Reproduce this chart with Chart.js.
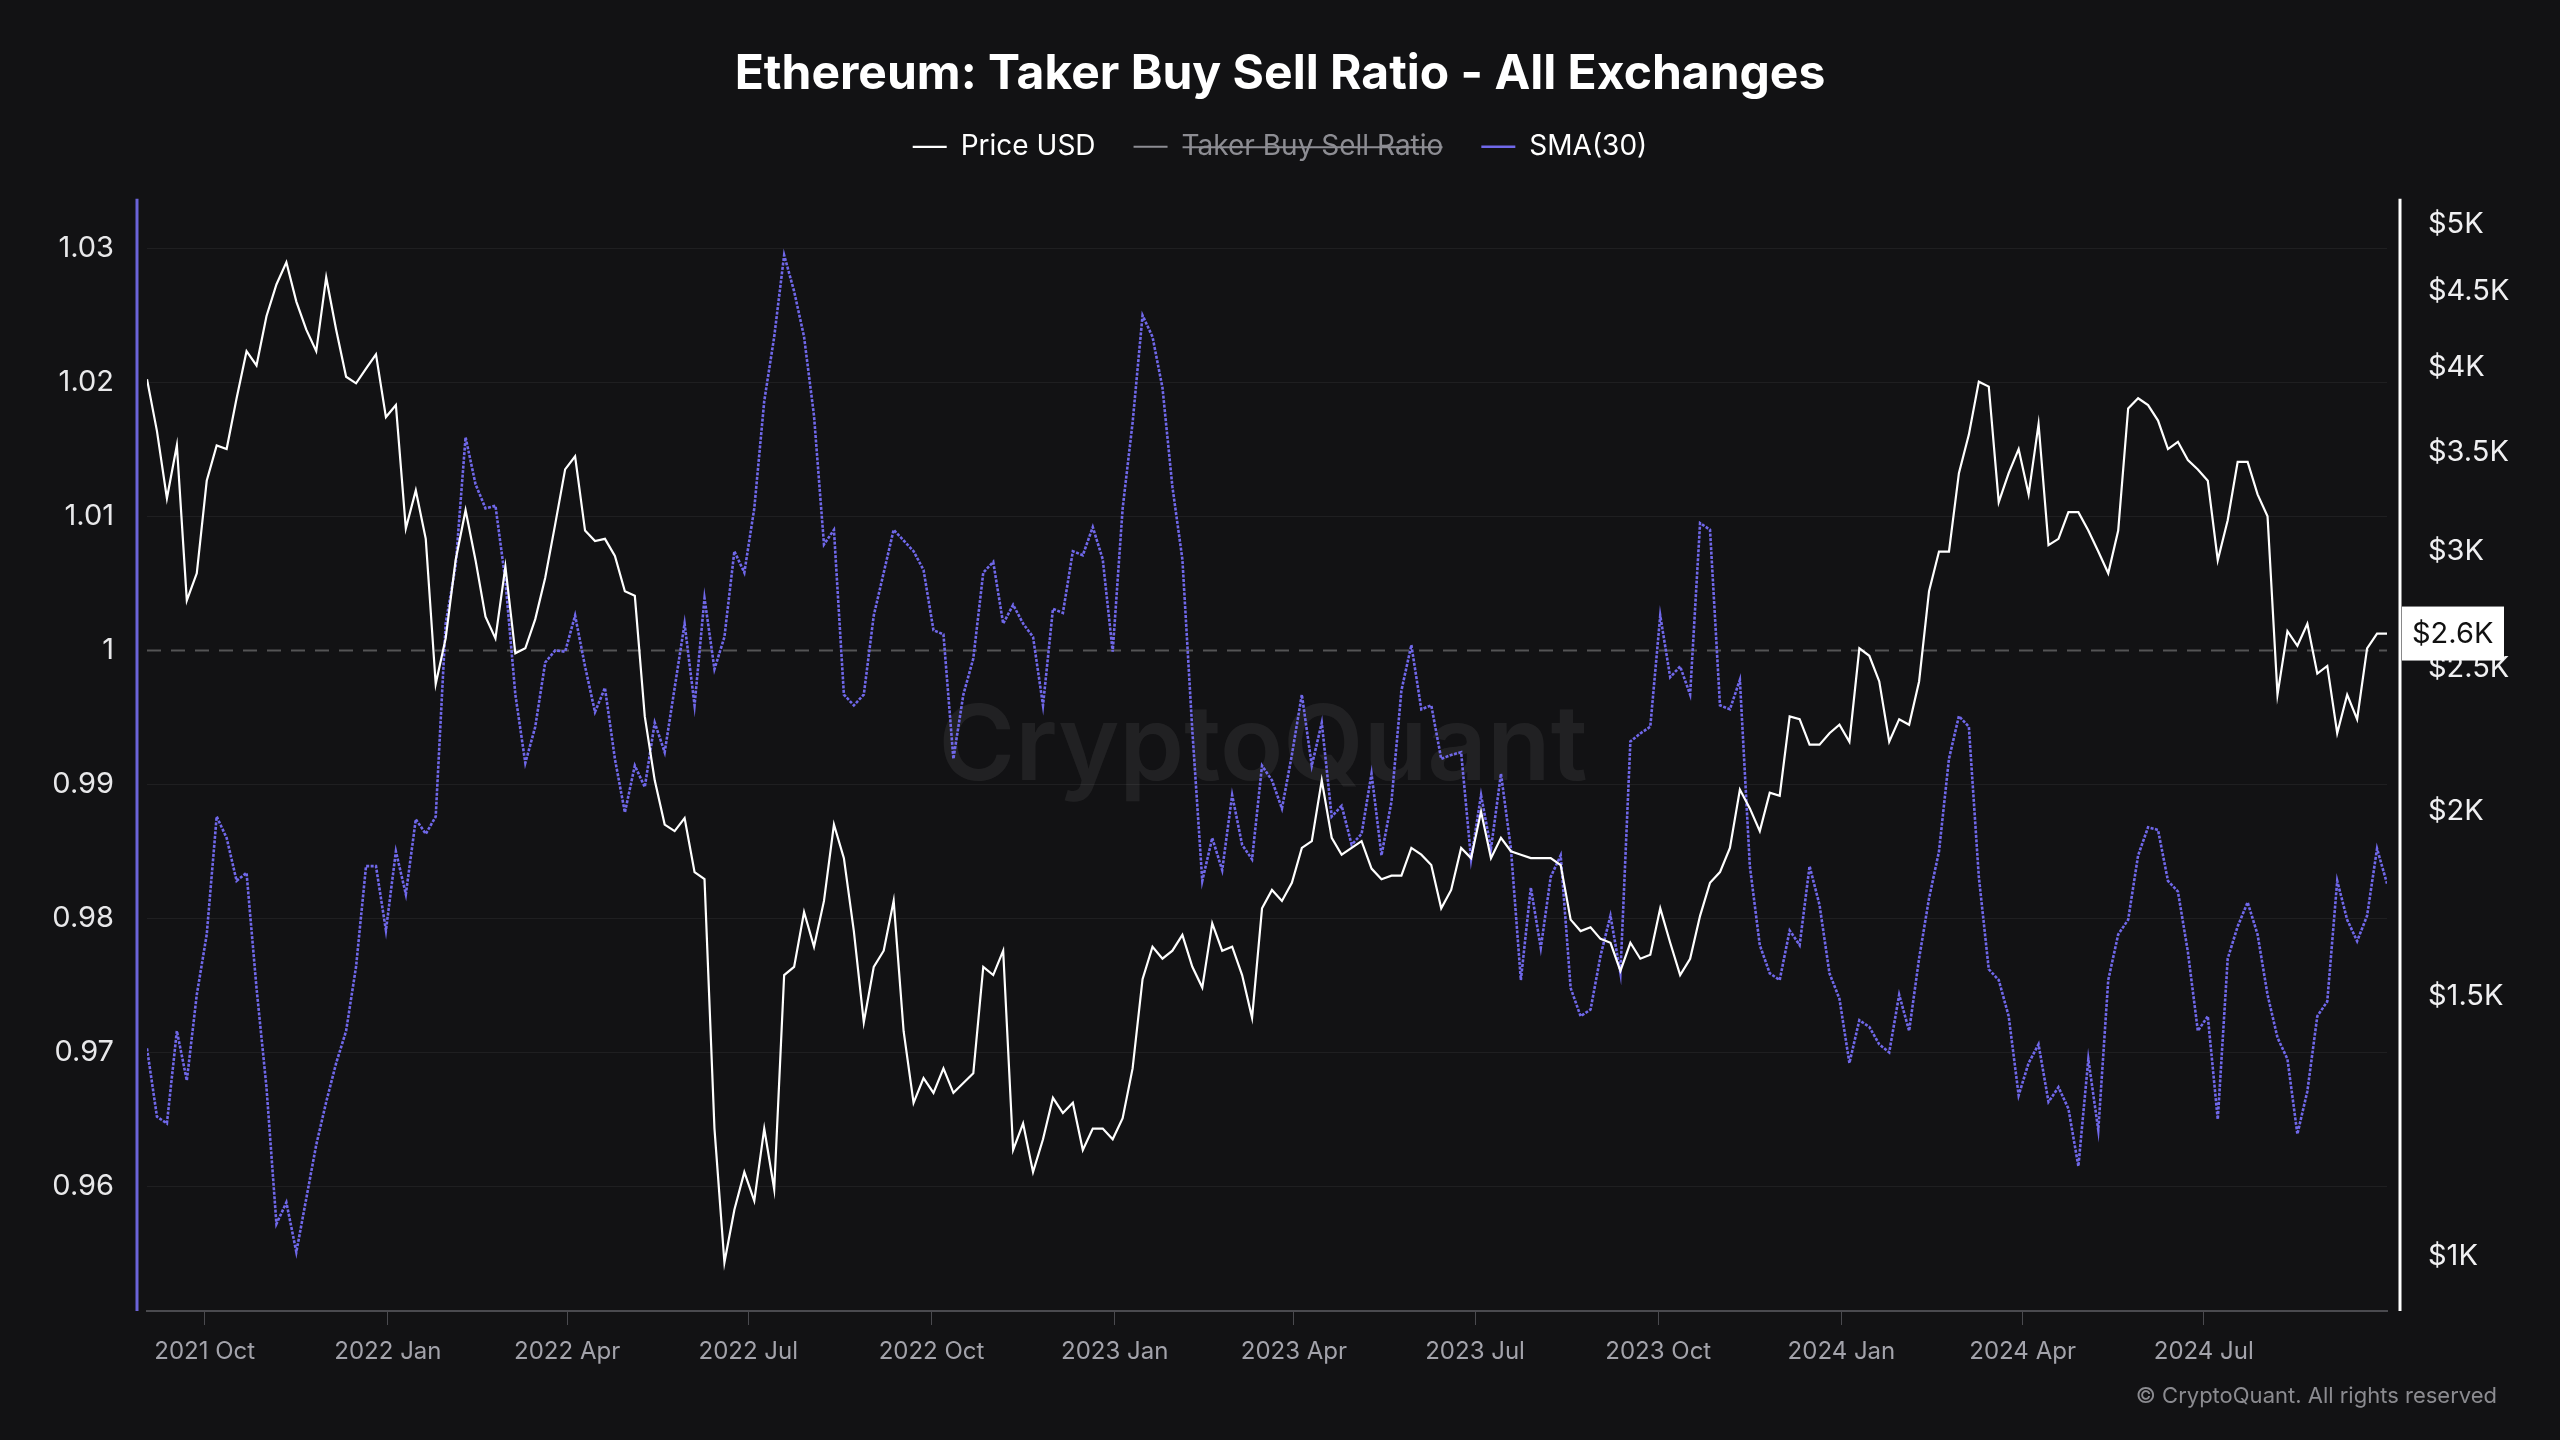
<!DOCTYPE html>
<html>
<head>
<meta charset="utf-8">
<title>Ethereum: Taker Buy Sell Ratio - All Exchanges</title>
<script src="https://cdn.jsdelivr.net/npm/chart.js@4.4.1/dist/chart.umd.min.js"></script>
<style>
  html, body { margin: 0; padding: 0; background: #121214; }
  #wrap { width: 2560px; height: 1440px; position: relative; }
</style>
</head>
<body>
<div id="wrap"><canvas id="myChart"></canvas></div>
<script>
// one reading every 5 days, starting 2021-09-02
var startDate = Date.UTC(2021, 8, 2);
var stepDays = 5;

// Price USD (right axis, log)
var priceUsd = [
  3925, 3620, 3260, 3540, 2780, 2900, 3350, 3540, 3520, 3810,
  4100, 4010, 4330, 4550, 4710, 4430, 4240, 4100, 4600, 4240,
  3940, 3900, 3990, 4080, 3700, 3770, 3110, 3300, 3060, 2440,
  2620, 2960, 3200, 2960, 2710, 2620, 2930, 2560,
  2580, 2700, 2880, 3130, 3410, 3480, 3100, 3050, 3060, 2980,
  2820, 2800, 2320, 2100, 1960, 1940, 1980, 1820, 1800, 1220,
  990, 1075, 1140, 1090, 1220, 1110, 1550, 1570, 1710, 1620,
  1740, 1960, 1860, 1660, 1440, 1570, 1610, 1740,
  1420, 1270, 1320, 1290, 1340, 1290, 1310, 1330, 1570, 1550,
  1610, 1180, 1230, 1140, 1200, 1280, 1250, 1270, 1180, 1220,
  1220, 1200, 1240, 1340, 1540, 1620, 1590, 1610, 1650, 1570,
  1520, 1680, 1610, 1620, 1550, 1450, 1720,
  1770, 1740, 1790, 1890, 1910, 2100, 1920, 1870, 1890, 1910,
  1830, 1800, 1810, 1810, 1890, 1870, 1840, 1720, 1770, 1890,
  1860, 2000, 1860, 1920, 1880, 1870, 1860, 1860, 1860, 1840,
  1690, 1660, 1670, 1640, 1630, 1560, 1630, 1590,
  1600, 1720, 1630, 1550, 1590, 1700, 1790, 1820, 1890, 2070,
  2010, 1940, 2060, 2050, 2320, 2310, 2220, 2220, 2260, 2290,
  2230, 2580, 2550, 2450, 2230, 2310, 2290, 2450, 2820, 3000,
  3000, 3390, 3600, 3910, 3880, 3240, 3390, 3520,
  3280, 3660, 3030, 3060, 3190, 3190, 3100, 3000, 2900, 3100,
  3750, 3810, 3770, 3680, 3520, 3560, 3460, 3410, 3350, 2960,
  3150, 3450, 3450, 3280, 3170, 2400, 2650, 2590, 2680, 2480,
  2510, 2260, 2400, 2310, 2580, 2640, 2640
];

// SMA(30) of taker buy sell ratio (left axis)
var sma30 = [
  0.9703, 0.9652, 0.9647, 0.9716, 0.9679, 0.9743, 0.9788, 0.9876, 0.9860, 0.9828,
  0.9834, 0.9748, 0.9674, 0.9572, 0.9588, 0.9551, 0.9591, 0.9631, 0.9663, 0.9692,
  0.9716, 0.9764, 0.9839, 0.9839, 0.9791, 0.9850, 0.9818, 0.9874, 0.9863, 0.9876,
  1.0020, 1.0063, 1.0159, 1.0124, 1.0106, 1.0108, 1.0052, 0.9967,
  0.9916, 0.9943, 0.9991, 1.0000, 0.9999, 1.0026, 0.9988, 0.9954, 0.9972, 0.9919,
  0.9879, 0.9914, 0.9898, 0.9946, 0.9924, 0.9972, 1.0020, 0.9959, 1.0039, 0.9986,
  1.0010, 1.0074, 1.0058, 1.0106, 1.0186, 1.0234, 1.0295, 1.0268, 1.0234, 1.0175,
  1.0079, 1.0090, 0.9967, 0.9959, 0.9967, 1.0026, 1.0058, 1.0090,
  1.0082, 1.0074, 1.0060, 1.0015, 1.0012, 0.9919, 0.9967, 0.9994, 1.0058, 1.0066,
  1.0020, 1.0034, 1.0020, 1.0010, 0.9959, 1.0031, 1.0028, 1.0074, 1.0071, 1.0092,
  1.0068, 0.9999, 1.0106, 1.0170, 1.0250, 1.0234, 1.0196, 1.0122, 1.0068, 0.9940,
  0.9828, 0.9860, 0.9836, 0.9892, 0.9855, 0.9844, 0.9914,
  0.9903, 0.9882, 0.9922, 0.9967, 0.9914, 0.9946, 0.9876, 0.9884, 0.9855, 0.9863,
  0.9908, 0.9847, 0.9887, 0.9970, 1.0004, 0.9956, 0.9959, 0.9919, 0.9922, 0.9924,
  0.9844, 0.9892, 0.9852, 0.9908, 0.9852, 0.9754, 0.9823, 0.9778, 0.9831, 0.9847,
  0.9748, 0.9727, 0.9732, 0.9772, 0.9802, 0.9759, 0.9932, 0.9938,
  0.9943, 1.0026, 0.9980, 0.9988, 0.9967, 1.0095, 1.0090, 0.9959, 0.9956, 0.9978,
  0.9839, 0.9780, 0.9759, 0.9754, 0.9791, 0.9780, 0.9839, 0.9810, 0.9759, 0.9740,
  0.9692, 0.9724, 0.9719, 0.9706, 0.9700, 0.9743, 0.9716, 0.9770, 0.9815, 0.9850,
  0.9919, 0.9951, 0.9943, 0.9831, 0.9762, 0.9754, 0.9727, 0.9668,
  0.9692, 0.9706, 0.9663, 0.9674, 0.9658, 0.9615, 0.9695, 0.9642, 0.9754, 0.9788,
  0.9799, 0.9847, 0.9868, 0.9866, 0.9828, 0.9820, 0.9775, 0.9716, 0.9727, 0.9650,
  0.9770, 0.9794, 0.9812, 0.9788, 0.9743, 0.9711, 0.9695, 0.9639, 0.9671, 0.9727,
  0.9738, 0.9828, 0.9799, 0.9783, 0.9802, 0.9852, 0.9826
];

var ratioTicks = [0.96, 0.97, 0.98, 0.99, 1, 1.01, 1.02, 1.03];
var priceTicks = [1000, 1500, 2000, 2500, 3000, 3500, 4000, 4500, 5000];
var monthNames = ["Jan", "Feb", "Mar", "Apr", "May", "Jun", "Jul", "Aug", "Sep", "Oct", "Nov", "Dec"];

var dates = [];
for (var i = 0; i < priceUsd.length; i++) {
  dates.push(startDate + i * stepDays * 86400000);
}

var FONT = "Inter, 'Noto Sans', sans-serif";

var decor = {
  id: "decor",
  beforeInit: function(chart) {
    var fit = chart.legend.fit;
    chart.legend.fit = function() {
      fit.bind(chart.legend)();
      this.height += 28;
    };
  },
  beforeDraw: function(chart) {
    var ctx = chart.ctx;
    ctx.save();
    ctx.fillStyle = "#121214";
    ctx.fillRect(0, 0, chart.width, chart.height);
    ctx.restore();
  },
  beforeDatasetsDraw: function(chart) {
    var ctx = chart.ctx, a = chart.chartArea;
    ctx.save();
    // watermark
    ctx.font = "600 104px " + FONT;
    ctx.fillStyle = "rgba(255,255,255,0.065)";
    ctx.textAlign = "center";
    ctx.textBaseline = "middle";
    ctx.fillText("CryptoQuant", (a.left + a.right) / 2 - 4, (a.top + a.bottom) / 2 - 6);
    // dashed line at ratio 1
    var y = chart.scales.y.getPixelForValue(1);
    ctx.strokeStyle = "rgba(255,255,255,0.28)";
    ctx.lineWidth = 2;
    ctx.setLineDash([14, 10]);
    ctx.beginPath();
    ctx.moveTo(a.left, y);
    ctx.lineTo(a.right, y);
    ctx.stroke();
    ctx.restore();
  },
  afterDraw: function(chart) {
    var ctx = chart.ctx, a = chart.chartArea;
    ctx.save();
    // axis lines, set apart from the plot
    ctx.lineWidth = 3;
    ctx.strokeStyle = "#6b63d8";
    ctx.beginPath();
    ctx.moveTo(a.left - 10, a.top);
    ctx.lineTo(a.left - 10, a.bottom);
    ctx.stroke();
    ctx.strokeStyle = "#ffffff";
    ctx.beginPath();
    ctx.moveTo(a.right + 13, a.top);
    ctx.lineTo(a.right + 13, a.bottom);
    ctx.stroke();

    // last price tag
    var last = priceUsd[priceUsd.length - 1];
    var py = chart.scales.y1.getPixelForValue(last);
    ctx.fillStyle = "#ffffff";
    ctx.fillRect(a.right + 15, py - 27, 102, 54);
    ctx.fillStyle = "#111111";
    ctx.font = "29px " + FONT;
    ctx.textAlign = "left";
    ctx.textBaseline = "middle";
    ctx.fillText("$" + (last / 1000).toFixed(1) + "K", a.right + 25, py + 1);

    // copyright
    ctx.font = "22px " + FONT;
    ctx.fillStyle = "#8b8b90";
    ctx.textAlign = "right";
    ctx.fillText("\u00a9 CryptoQuant. All rights reserved", 2497, 1396);
    ctx.restore();
  }
};

var myChart = document.getElementById("myChart").getContext("2d");

var chart = new Chart(myChart, {
  type: "line",
  data: {
    labels: dates,
    datasets: [
      {
        label: "Price USD",
        data: priceUsd,
        yAxisID: "y1",
        borderColor: "#ffffff",
        borderWidth: 2.2,
        pointRadius: 0,
        tension: 0
      },
      {
        label: "Taker Buy Sell Ratio",
        data: [],
        yAxisID: "y",
        hidden: true,
        borderColor: "#8d8d93",
        borderWidth: 2,
        pointRadius: 0
      },
      {
        label: "SMA(30)",
        data: sma30,
        yAxisID: "y",
        borderColor: "#7068ea",
        borderWidth: 2.6,
        borderDash: [3, 1.5],
        pointRadius: 0,
        tension: 0
      }
    ]
  },
  options: {
    responsive: true,
    maintainAspectRatio: false,
    animation: false,
    events: [],
    layout: { padding: { top: 0, left: 0, right: 0, bottom: 74 } },
    plugins: {
      title: {
        display: true,
        text: "Ethereum: Taker Buy Sell Ratio - All Exchanges",
        color: "#ffffff",
        font: { family: FONT, size: 48, weight: "700", lineHeight: 0.85 },
        padding: { top: 54, bottom: 0 }
      },
      legend: {
        display: true,
        labels: {
          color: "#ffffff",
          font: { family: FONT, size: 28 },
          usePointStyle: true,
          pointStyle: "line",
          pointStyleWidth: 34,
          padding: 38,
          generateLabels: function(c) {
            var items = Chart.defaults.plugins.legend.labels.generateLabels(c);
            items.forEach(function(it) {
              it.fontColor = it.hidden ? "#8d8d93" : "#ffffff";
            });
            return items;
          }
        }
      },
      tooltip: { enabled: false }
    },
    scales: {
      x: {
        type: "linear",
        min: dates[0],
        max: dates[dates.length - 1],
        grid: { display: true, drawOnChartArea: false, drawTicks: true, tickLength: 14, color: "#4a4a4f" },
        border: { display: true, color: "#4a4a4f", width: 2 },
        ticks: {
          color: "#a3a3ab",
          font: { family: FONT, size: 24 },
          padding: 12,
          maxRotation: 0,
          autoSkip: false,
          callback: function(v) {
            var d = new Date(v);
            return d.getUTCFullYear() + " " + monthNames[d.getUTCMonth()];
          }
        },
        afterBuildTicks: function(scale) {
          var ticks = [];
          var d = new Date(scale.min);
          var yr = d.getUTCFullYear(), m = d.getUTCMonth() + 1;
          while (true) {
            if (m > 11) { m -= 12; yr++; }
            var t = Date.UTC(yr, m, 1);
            if (t >= scale.max) break;
            if (m % 3 === 0) ticks.push({ value: t });
            m++;
          }
          scale.ticks = ticks;
        },
        afterFit: function(scale) { scale.height = 55; }
      },
      y: {
        type: "linear",
        position: "left",
        min: 0.9507,
        max: 1.0337,
        grid: {
          drawTicks: false,
          color: function(c) { return c.tick && c.tick.value === 1 ? "rgba(0,0,0,0)" : "rgba(255,255,255,0.06)"; }
        },
        border: { display: false },
        ticks: {
          color: "#e8e8ea",
          font: { family: FONT, size: 29 },
          padding: 33,
          callback: function(v) { return v === 1 ? "1" : v.toFixed(2); }
        },
        afterBuildTicks: function(scale) {
          scale.ticks = ratioTicks.map(function(v) { return { value: v }; });
        },
        afterFit: function(scale) { scale.width = 147; }
      },
      y1: {
        type: "logarithmic",
        position: "right",
        min: 918,
        max: 5200,
        grid: { display: false, drawOnChartArea: false },
        border: { display: false },
        ticks: {
          color: "#f0f0f2",
          font: { family: FONT, size: 29 },
          padding: 33,
          callback: function(v) { return "$" + (v / 1000) + "K"; }
        },
        afterBuildTicks: function(scale) {
          scale.ticks = priceTicks.map(function(v) { return { value: v }; });
        },
        afterFit: function(scale) { scale.width = 173; }
      }
    }
  },
  plugins: [decor]
});
</script>
</body>
</html>
